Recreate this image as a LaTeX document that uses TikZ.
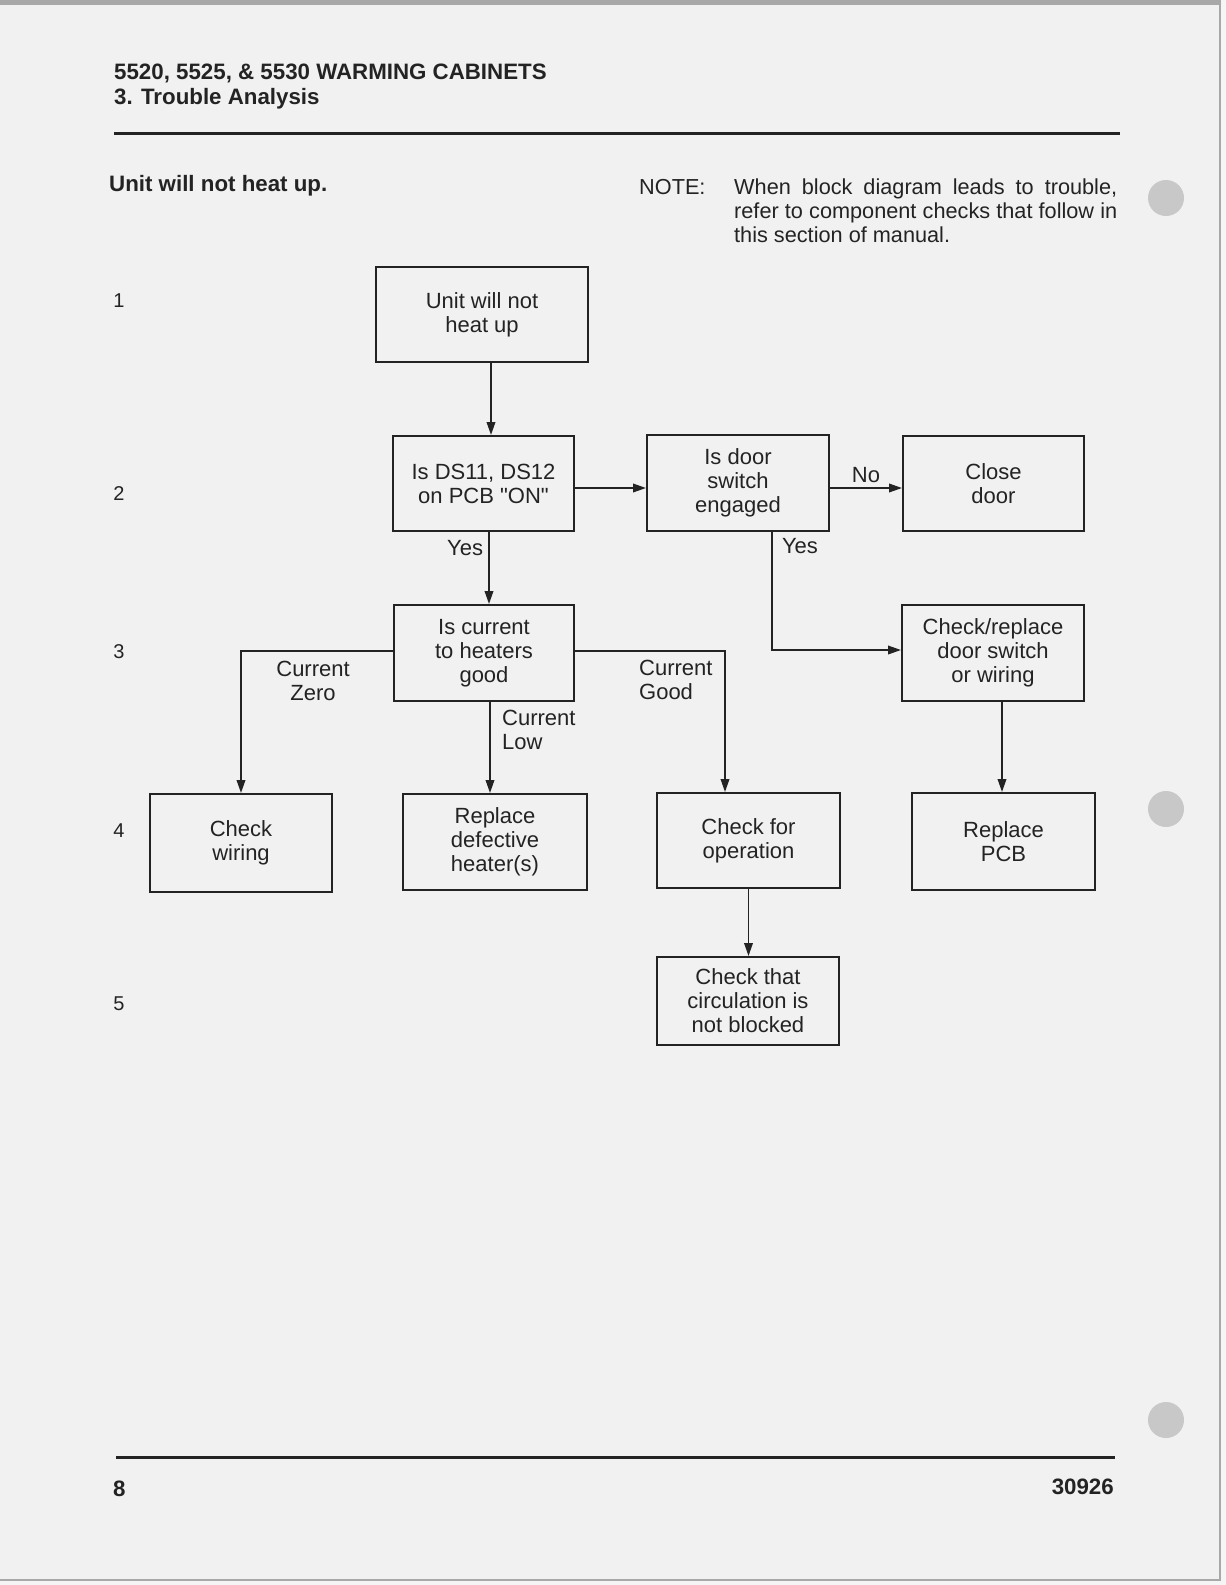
\documentclass[tikz,border=0pt]{standalone}
\usepackage{fontspec}
\setmainfont{Liberation Sans}
\newcommand{\plainquotes}[1]{{\addfontfeatures{Ligatures=TeXOff}#1}}
\usetikzlibrary{arrows.meta,calc}
\definecolor{ink}{HTML}{232323}
\definecolor{paper}{HTML}{F1F1F1}
\definecolor{hole}{HTML}{C8C8C8}
\definecolor{edge}{HTML}{A8A8A8}
\tikzset{
  flowbox/.style={draw=ink, line width=1.9pt, align=center, inner sep=0pt,
    text=ink, font=\fontsize{22}{24}\selectfont},
  conn/.style={draw=ink, line width=1.9pt, -{Triangle[length=13pt,width=8.5pt]}},
  lbl/.style={text=ink, font=\fontsize{22}{24}\selectfont, inner sep=0pt},
  notetx/.style={text=ink, font=\fontsize{21.7}{24}\selectfont, inner sep=0pt, anchor=base west},
  headtxt/.style={text=ink, font=\fontsize{22.3}{24}\selectfont\bfseries, inner sep=0pt, anchor=base west},
  rownum/.style={text=ink, font=\fontsize{20}{22}\selectfont, inner sep=0pt},
  rulebar/.style={draw=ink, line width=3pt},
}
\begin{document}
\begin{tikzpicture}[x=1pt,y=-1pt]
\useasboundingbox (0,0) rectangle (1226,1585);
\fill[paper] (0,0) rectangle (1226,1585);
% scan edges
\fill[edge] (0,0) rectangle (1226,5);
\fill[white!96!black] (1221,0) rectangle (1226,1585);
\fill[white!96!black] (0,1581) rectangle (1226,1585);
\draw[edge, line width=2.5pt] (1220,5) -- (1220,1580) -- (0,1580);
% punch holes
\fill[hole] (1166,198) circle (18);
\fill[hole] (1166,809) circle (18);
\fill[hole] (1166,1420) circle (18);

% header
\node[headtxt] (h1) at (114,79) {5520, 5525, \& 5530 WARMING CABINETS};
\node[headtxt] (h2) at (114,104) {3. Trouble Analysis};
\draw[rulebar] (114,133) -- (1120,133);
\node[headtxt] (title) at (109,191) {Unit will not heat up.};

% note
\node[notetx] (note) at (639,194) {NOTE:};
\node[notetx] (n1) at (734,194) {\makebox[383pt][s]{When block diagram leads to trouble,}};
\node[notetx] (n2) at (734,218) {\makebox[383pt][s]{refer to component checks that follow in}};
\node[notetx] (n3) at (734,242) {this section of manual.};

% row numbers
\node[rownum] (r1) at (119,301) {1};
\node[rownum] (r2) at (119,494) {2};
\node[rownum] (r3) at (119,652) {3};
\node[rownum] (r4) at (119,831) {4};
\node[rownum] (r5) at (119,1004) {5};

% boxes
\node[flowbox, minimum width=212pt, minimum height=95pt] (b1) at (482,314.5) {Unit will not\\heat up};
\node[flowbox, minimum width=181pt, minimum height=95pt] (b2) at (483.5,483.5) {Is DS11, DS12\\on PCB \plainquotes{"ON"}};
\node[flowbox, minimum width=182pt, minimum height=96pt] (b3) at (738,483) {Is door\\switch\\engaged};
\node[flowbox, minimum width=181pt, minimum height=95pt] (b4) at (993.5,483.5) {Close\\door};
\node[flowbox, minimum width=180pt, minimum height=96pt] (b5) at (484,653) {Is current\\to heaters\\good};
\node[flowbox, minimum width=182pt, minimum height=96pt] (b6) at (993,653) {Check/replace\\door switch\\or wiring};
\node[flowbox, minimum width=182pt, minimum height=98pt] (b7) at (241,843) {Check\\wiring};
\node[flowbox, minimum width=184pt, minimum height=96pt] (b8) at (495,842) {Replace\\defective\\heater(s)};
\node[flowbox, minimum width=183pt, minimum height=95pt] (b9) at (748.5,840.5) {Check for\\operation};
\node[flowbox, minimum width=183pt, minimum height=97pt] (b10) at (1003.5,841.5) {Replace\\PCB};
\node[flowbox, minimum width=182pt, minimum height=88pt] (b11) at (748,1001) {Check that\\circulation is\\not blocked};

% connectors
\coordinate (a1) at ([xshift=9pt]b1.south);
\draw[conn] (a1) -- (a1 |- b2.north);

\coordinate (a2) at ([yshift=-4.5pt]b2.east);
\draw[conn] (a2) -- (a2 -| b3.west);

\coordinate (a3) at ([yshift=-5pt]b3.east);
\draw[conn] (a3) -- (a3 -| b4.west) node[lbl, midway, above=4pt] {No};

\coordinate (a4) at ([xshift=5.5pt]b2.south);
\draw[conn] (a4) -- (a4 |- b5.north) node[lbl, pos=0.22, left=5pt] {Yes};

\coordinate (a5) at ([xshift=34pt]b3.south);
\coordinate (e5) at ([yshift=3pt]b6.west);
\draw[conn] (a5) |- (e5);
\node[lbl] (yes2) at ([xshift=28pt,yshift=-14pt]a5) {Yes};

\coordinate (a6) at ([yshift=2pt]b5.west);
\draw[conn] (a6) -| (b7.north);
\node[lbl, align=center] (lzero) at ([xshift=-80pt,yshift=-30pt]a6) {Current\\Zero};

\coordinate (a7) at ([xshift=6pt]b5.south);
\draw[conn] (a7) -- (a7 |- b8.north);
\node[lbl, align=left, anchor=west] (llow) at ([xshift=12pt,yshift=-28pt]a7) {Current\\Low};

\coordinate (a8) at ([yshift=2pt]b5.east);
\coordinate (e8) at ([xshift=-23.5pt]b9.north);
\draw[conn] (a8) -| (e8);
\node[lbl, align=left, anchor=west] (lgood) at ([xshift=64pt,yshift=-29pt]a8) {Current\\Good};

\coordinate (a9) at ([xshift=9pt]b6.south);
\draw[conn] (a9) -- (a9 |- b10.north);

\draw[conn] (b9.south) -- (b9.south |- b11.north);

% footer
\draw[rulebar] (116,1457) -- (1115,1457);
\node[headtxt] (pg) at (113,1496) {8};
\node[headtxt, anchor=base east] (docno) at (1114,1494) {30926};
\end{tikzpicture}
\end{document}
